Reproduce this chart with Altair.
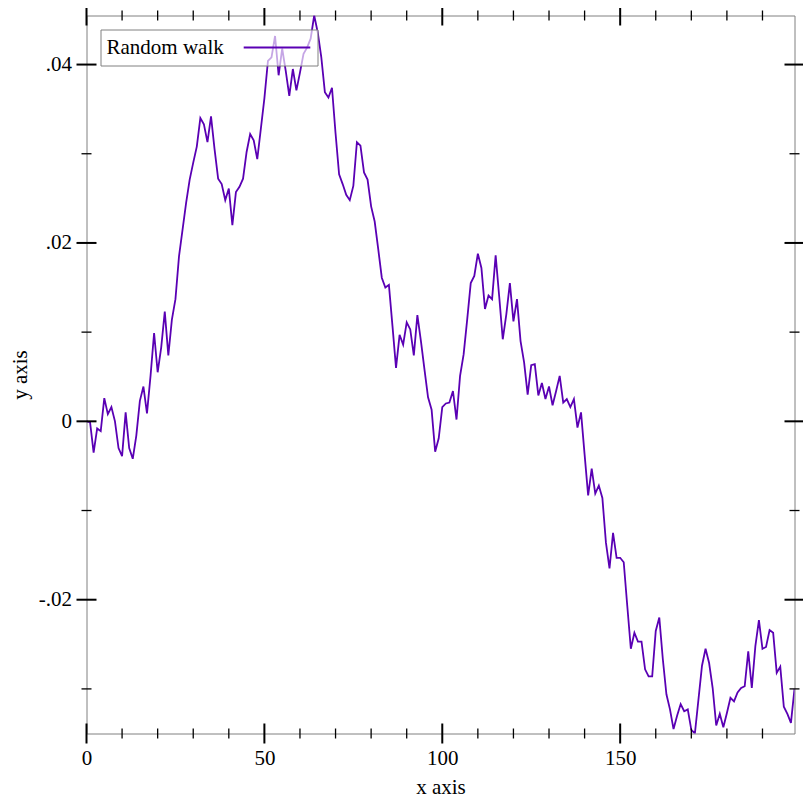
import altair as alt
import pandas as pd

# ---- data ----
x_values = list(range(200))
y_values = [
    0.0000, -0.0001, -0.0035, -0.0008, -0.0011, 0.0026, 0.0008, 0.0016, 0.0000, -0.0030,
    -0.0039, 0.0010, -0.0030, -0.0042, -0.0016, 0.0023, 0.0039, 0.0009, 0.0051, 0.0099,
    0.0055, 0.0083, 0.0123, 0.0074, 0.0114, 0.0137, 0.0185, 0.0215, 0.0245, 0.0271,
    0.0290, 0.0308, 0.0340, 0.0333, 0.0313, 0.0342, 0.0305, 0.0272, 0.0266, 0.0248,
    0.0261, 0.0220, 0.0257, 0.0263, 0.0272, 0.0302, 0.0322, 0.0315, 0.0294, 0.0328,
    0.0362, 0.0404, 0.0408, 0.0432, 0.0388, 0.0418, 0.0393, 0.0365, 0.0395, 0.0371,
    0.0391, 0.0412, 0.0419, 0.0429, 0.0455, 0.0436, 0.0408, 0.0369, 0.0363, 0.0374,
    0.0323, 0.0277, 0.0266, 0.0254, 0.0248, 0.0264, 0.0313, 0.0309, 0.0279, 0.0271,
    0.0241, 0.0224, 0.0193, 0.0161, 0.0150, 0.0153, 0.0107, 0.0060, 0.0097, 0.0086,
    0.0111, 0.0103, 0.0074, 0.0119, 0.0090, 0.0058, 0.0027, 0.0013, -0.0034, -0.0019,
    0.0016, 0.0020, 0.0021, 0.0034, 0.0002, 0.0051, 0.0075, 0.0114, 0.0155, 0.0163,
    0.0188, 0.0172, 0.0126, 0.0141, 0.0137, 0.0186, 0.0140, 0.0092, 0.0120, 0.0155,
    0.0112, 0.0137, 0.0090, 0.0066, 0.0030, 0.0063, 0.0064, 0.0029, 0.0043, 0.0025,
    0.0039, 0.0018, 0.0034, 0.0051, 0.0021, 0.0025, 0.0016, 0.0025, -0.0007, 0.0010,
    -0.0037, -0.0083, -0.0053, -0.0081, -0.0072, -0.0086, -0.0136, -0.0165, -0.0125, -0.0153,
    -0.0153, -0.0158, -0.0207, -0.0255, -0.0237, -0.0247, -0.0247, -0.0278, -0.0286, -0.0286,
    -0.0235, -0.0220, -0.0267, -0.0306, -0.0323, -0.0345, -0.0330, -0.0317, -0.0325, -0.0323,
    -0.0346, -0.0350, -0.0312, -0.0274, -0.0255, -0.0271, -0.0299, -0.0341, -0.0328, -0.0343,
    -0.0327, -0.0310, -0.0314, -0.0304, -0.0299, -0.0297, -0.0258, -0.0299, -0.0252, -0.0223,
    -0.0255, -0.0253, -0.0234, -0.0237, -0.0282, -0.0275, -0.0320, -0.0328, -0.0338, -0.0300,
]
series_label = "Random walk"
x_title = "x axis"
y_title = "y axis"
x_major = [0, 50, 100, 150]
x_minor = [10, 20, 30, 40, 60, 70, 80, 90, 110, 120, 130, 140, 160, 170, 180, 190]
y_major = [-0.02, 0.0, 0.02, 0.04]
y_minor = [-0.03, -0.01, 0.01, 0.03]

x_domain = [min(x_values), max(x_values)]
y_domain = [min(y_values), max(y_values)]

line_color = "#5a00b4"
frame_color = "#808080"
font = "Liberation Serif"

df = pd.DataFrame({"x": x_values, "y": y_values, "series": [series_label] * len(x_values)})

x_scale = alt.Scale(domain=x_domain, nice=False, zero=False)
y_scale = alt.Scale(domain=y_domain, nice=False, zero=False)

x_axis = alt.Axis(
    values=x_major, title=x_title, ticks=False, tickSize=0, domain=False, grid=False,
    labelFont=font, labelFontSize=21, labelColor="black", labelPadding=14,
    labelFlush=False, format="d",
    titleFont=font, titleFontSize=21, titleFontWeight="normal", titleColor="black",
    titlePadding=8,
)
y_axis = alt.Axis(
    values=y_major, title=y_title, ticks=False, tickSize=0, domain=False, grid=False,
    labelFont=font, labelFontSize=21, labelColor="black", labelPadding=15,
    labelFlush=False,
    labelExpr="datum.value == 0 ? '0' : (datum.value < 0 ? '-' : '') + "
              "replace(format(abs(datum.value), '.2f'), '0.', '.')",
    titleFont=font, titleFontSize=21, titleFontWeight="normal", titleColor="black",
    titlePadding=8,
)


def tick_frame(xs, ys):
    return pd.DataFrame({"x": xs, "y": ys})


# x ticks on bottom and top edges, y ticks on left and right edges
xmaj = tick_frame(x_major * 2, [y_domain[0]] * len(x_major) + [y_domain[1]] * len(x_major))
xmin = tick_frame(x_minor * 2, [y_domain[0]] * len(x_minor) + [y_domain[1]] * len(x_minor))
ymaj = tick_frame([x_domain[0]] * len(y_major) + [x_domain[1]] * len(y_major), y_major * 2)
ymin = tick_frame([x_domain[0]] * len(y_minor) + [x_domain[1]] * len(y_minor), y_minor * 2)


def ticks(data, orient, size, thickness):
    return alt.Chart(data).mark_tick(
        orient=orient, size=size, thickness=thickness, color="black", opacity=1, clip=False
    ).encode(
        x=alt.X("x:Q", scale=x_scale, axis=x_axis),
        y=alt.Y("y:Q", scale=y_scale, axis=y_axis),
    )


line = alt.Chart(df).mark_line(strokeWidth=1.8, clip=True).encode(
    x=alt.X("x:Q", scale=x_scale, axis=x_axis),
    y=alt.Y("y:Q", scale=y_scale, axis=y_axis),
    color=alt.Color(
        "series:N",
        scale=alt.Scale(domain=[series_label], range=[line_color]),
        legend=alt.Legend(
            title=series_label, titleOrient="left", orient="none", legendX=14, legendY=14,
            labelExpr="''", labelOffset=0, symbolType="stroke", symbolSize=4436,
            symbolStrokeWidth=1.8, padding=6, strokeColor=frame_color,
            fillColor="rgba(255,255,255,0.65)", cornerRadius=0, clipHeight=24,
            titleFont=font, titleFontSize=21, titleFontWeight="normal", titleColor="black",
            titlePadding=18,
        ),
    ),
)

chart = alt.layer(
    line,
    ticks(xmaj, "vertical", 20, 2),
    ticks(xmin, "vertical", 10, 1.3),
    ticks(ymaj, "horizontal", 20, 2),
    ticks(ymin, "horizontal", 10, 1.3),
).properties(
    width=708,
    height=718,
    background="white",
    autosize=alt.AutoSizeParams(type="none"),
    padding={"left": 78.5, "top": 7.5, "right": 8, "bottom": 68},
).configure_view(
    stroke=frame_color, strokeWidth=1, strokeOpacity=1
)

chart.save("out.html", embed_options={"renderer": "svg", "actions": False})
